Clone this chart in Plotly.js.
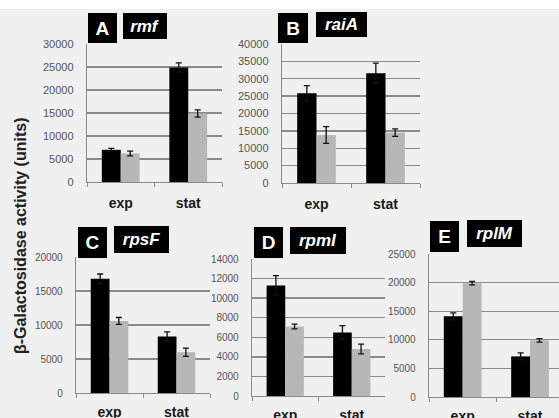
<!DOCTYPE html>
<html>
<head>
<meta charset="utf-8">
<script src="https://cdn.plot.ly/plotly-3.0.1.min.js"></script>
<style>html,body{margin:0;padding:0;background:#f0f0f0;}#chart{width:559px;height:418px;}</style>
</head>
<body>
<div id="chart"></div>
<script>
// ---- data ----
const categories = ['exp', 'stat'];
const panelLetters = ['A', 'B', 'C', 'D', 'E'];
const geneNames = ['rmf', 'raiA', 'rpsF', 'rpmI', 'rplM'];

const rmfBlack = [7000, 24900];  const rmfBlackErr = [300, 1000];
const rmfGray  = [6200, 14900];  const rmfGrayErr  = [500, 800];

const raiABlack = [25800, 31600]; const raiABlackErr = [2200, 2900];
const raiAGray  = [13800, 14500]; const raiAGrayErr  = [2400, 1100];

const rpsFBlack = [16800, 8300];  const rpsFBlackErr = [700, 700];
const rpsFGray  = [10600, 6000];  const rpsFGrayErr  = [500, 600];

const rpmIBlack = [11300, 6500];  const rpmIBlackErr = [1000, 700];
const rpmIGray  = [7100, 4800];   const rpmIGrayErr  = [250, 500];

const rplMBlack = [14100, 7100];  const rplMBlackErr = [600, 600];
const rplMGray  = [19900, 9900];  const rplMGrayErr  = [300, 300];

const yMax   = [30000, 40000, 20000, 14000, 25000];
const yDtick = [5000, 5000, 5000, 2000, 5000];
const yTitle = 'β-Galactosidase activity (units)';

// ---- layout geometry (pixels) ----
const W = 559, H = 418;
const boxes = [
  {x0: 87,  x1: 222, y0: 44,  y1: 182, xr: [-0.5, 1.5], tf: 11, xs: 8},
  {x0: 282, x1: 420, y0: 44,  y1: 183, xr: [-0.5, 1.5], tf: 11, xs: 8},
  {x0: 76,  x1: 210, y0: 257, y1: 393, xr: [-0.5, 1.5], tf: 10, xs: 6},
  {x0: 252, x1: 385, y0: 259, y1: 396, xr: [-0.5, 1.5], tf: 10, xs: 6},
  {x0: 429, x1: 559, y0: 254, y1: 397, xr: [-0.5, 1.43], tf: 10, xs: 6}
];
const letterBoxes = [
  {cx: 102.5, cy: 28,    w: 29, h: 30}, {cx: 293,   cy: 28,    w: 30, h: 30},
  {cx: 92.5,  cy: 242.5, w: 29, h: 31}, {cx: 268.5, cy: 242.5, w: 29, h: 31},
  {cx: 444.5, cy: 236.5, w: 29, h: 31}
];
const geneBoxes = [
  {cx: 145,   cy: 26,    w: 44, h: 26}, {cx: 341.5, cy: 24.5,  w: 51, h: 25},
  {cx: 141.5, cy: 239.5, w: 55, h: 27}, {cx: 318,   cy: 240.5, w: 56, h: 27},
  {cx: 494.5, cy: 233.5, w: 55, h: 27}
];

const blackSeries = [[rmfBlack, rmfBlackErr], [raiABlack, raiABlackErr], [rpsFBlack, rpsFBlackErr], [rpmIBlack, rpmIBlackErr], [rplMBlack, rplMBlackErr]];
const graySeries  = [[rmfGray, rmfGrayErr], [raiAGray, raiAGrayErr], [rpsFGray, rpsFGrayErr], [rpmIGray, rpmIGrayErr], [rplMGray, rplMGrayErr]];

const gridCol = '#8a8a8a';
const traces = [];
const layout = {
  width: W, height: H,
  margin: {l: 0, r: 0, t: 0, b: 0},
  paper_bgcolor: '#f0f0f0', plot_bgcolor: 'rgba(0,0,0,0)',
  barmode: 'group', bargap: 0.44, bargroupgap: 0,
  showlegend: false,
  font: {family: 'Liberation Sans, Arial, sans-serif'},
  annotations: [],
  shapes: [{type: 'rect', xref: 'paper', yref: 'paper', x0: 0, x1: 1, y0: 1 - 9 / H, y1: 1,
            fillcolor: '#ffffff', line: {width: 0}, layer: 'below'}]
};

for (let i = 0; i < 5; i++) {
  const n = i === 0 ? '' : String(i + 1);
  const b = boxes[i];
  const errStyle = {type: 'data', visible: true, color: '#111', thickness: 1.3, width: 3};
  traces.push({
    type: 'bar', x: categories, y: blackSeries[i][0], xaxis: 'x' + n, yaxis: 'y' + n,
    marker: {color: '#000000', line: {width: 0}},
    error_y: Object.assign({array: blackSeries[i][1]}, errStyle), hoverinfo: 'skip'
  });
  traces.push({
    type: 'bar', x: categories, y: graySeries[i][0], xaxis: 'x' + n, yaxis: 'y' + n,
    marker: {color: '#b7b7b7', line: {width: 0}},
    error_y: Object.assign({array: graySeries[i][1]}, errStyle), hoverinfo: 'skip'
  });
  layout['xaxis' + n] = {
    domain: [b.x0 / W, b.x1 / W], anchor: 'y' + n, range: b.xr,
    showgrid: false, zeroline: false, showline: true, linecolor: gridCol, linewidth: 1.3,
    ticks: 'outside', tickson: 'boundaries', ticklen: 4, tickcolor: gridCol,
    tickfont: {size: 14, color: '#1a1a1a', family: 'Liberation Sans, Arial, sans-serif', weight: 'bold'},
    ticklabelstandoff: b.xs, fixedrange: true
  };
  layout['yaxis' + n] = {
    domain: [1 - b.y1 / H, 1 - b.y0 / H], anchor: 'x' + n, range: [0, yMax[i]],
    dtick: yDtick[i], tick0: 0, showgrid: true, gridcolor: gridCol, gridwidth: 1.3,
    zeroline: false, showline: true, linecolor: gridCol, linewidth: 1.3,
    ticks: '', tickfont: {size: b.tf, color: '#555555'}, ticklabelstandoff: 10,
    separatethousands: false, tickformat: 'd', fixedrange: true
  };
  const lb = letterBoxes[i];
  layout.annotations.push({
    xref: 'paper', yref: 'paper', x: lb.cx / W, y: 1 - lb.cy / H, xanchor: 'center', yanchor: 'middle',
    text: '<b>' + panelLetters[i] + '</b>', showarrow: false, width: lb.w, height: lb.h,
    bgcolor: '#000000', borderpad: 0, borderwidth: 0, font: {size: 19, color: '#ffffff'}
  });
  const gb = geneBoxes[i];
  layout.annotations.push({
    xref: 'paper', yref: 'paper', x: gb.cx / W, y: 1 - gb.cy / H, xanchor: 'center', yanchor: 'middle',
    text: '<b><i>' + geneNames[i] + '</i></b>', showarrow: false, width: gb.w, height: gb.h,
    bgcolor: '#000000', borderpad: 0, borderwidth: 0, font: {size: 17, color: '#ffffff'}
  });
}

layout.annotations.push({
  xref: 'paper', yref: 'paper', x: 21 / W, y: 1 - 236 / H, xanchor: 'center', yanchor: 'middle',
  text: '<b>' + yTitle + '</b>', textangle: -90, showarrow: false,
  font: {size: 16, color: '#222222'}
});

Plotly.newPlot('chart', traces, layout, {staticPlot: true, displayModeBar: false});
</script>
</body>
</html>
